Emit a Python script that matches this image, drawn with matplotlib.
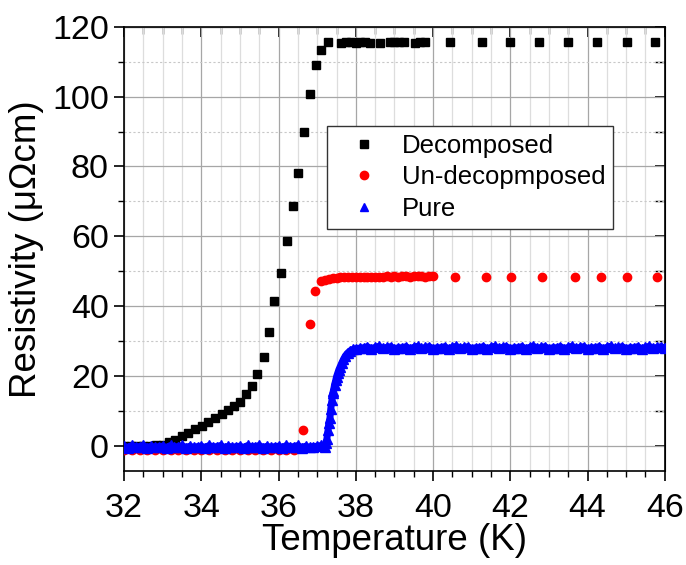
import matplotlib
matplotlib.use("Agg")
import matplotlib.pyplot as plt
from matplotlib.ticker import MultipleLocator

plt.rcParams['font.family'] = ['Liberation Sans', 'DejaVu Sans']

# Decomposed sample (black squares)
dec_T = [32.0, 32.17, 32.33, 32.5, 32.67, 32.83, 33.0,
         33.15, 33.32, 33.49, 33.66, 33.84, 34.01, 34.18, 34.36, 34.53, 34.70,
         34.85, 35.00, 35.15, 35.30, 35.45, 35.61, 35.75, 35.89, 36.06, 36.22,
         36.37, 36.50, 36.67, 36.82, 36.97, 37.11, 37.28,
         37.62, 37.75, 37.87, 38.00, 38.12, 38.25, 38.37, 38.63, 38.88, 39.00,
         39.12, 39.25, 39.52, 39.65, 39.78,
         40.45, 41.26, 41.99, 42.75, 43.50, 44.25, 45.01, 45.75]
dec_R = [0.0, 0.0, 0.0, 0.0, 0.0, 0.1, 0.3,
         1.1, 1.8, 2.8, 3.6, 4.7, 5.6, 6.7, 7.9, 9.0, 10.2,
         11.5, 12.6, 14.7, 17.1, 20.5, 25.5, 32.7, 41.5, 49.5, 58.6,
         68.7, 78.1, 89.8, 100.8, 108.9, 113.4, 115.5,
         115.4, 115.5, 115.5, 115.4, 115.5, 115.5, 115.4, 115.2, 115.5, 115.5,
         115.6, 115.5, 115.4, 115.5, 115.5,
         115.5, 115.5, 115.5, 115.5, 115.5, 115.5, 115.5, 115.5]

# Un-decomposed sample (red circles)
und_T = [32.0, 32.2, 32.4, 32.6, 32.8, 33.0, 33.2, 33.4, 33.6, 33.8, 34.0, 34.2,
         34.4, 34.6, 34.8, 35.0, 35.2, 35.4, 35.6, 35.8, 36.0, 36.2, 36.4,
         36.63, 36.81, 36.94, 37.09, 37.2, 37.3, 37.4, 37.5, 37.6, 37.7, 37.8,
         37.9, 38.0, 38.1, 38.2, 38.3, 38.4, 38.5, 38.6, 38.7, 38.8, 38.9, 39.0,
         39.1, 39.2, 39.3, 39.4, 39.5, 39.6, 39.7, 39.8, 39.9, 40.0,
         40.57, 41.37, 42.02, 42.83, 43.68, 44.34, 45.03, 45.80]
und_R = [-1.3, -1.3, -1.3, -1.3, -1.3, -1.3, -1.3, -1.3, -1.3, -1.3, -1.3, -1.3,
         -1.3, -1.3, -1.3, -1.3, -1.3, -1.3, -1.3, -1.3, -1.3, -1.3, -1.3,
         4.5, 35.0, 44.4, 47.2, 47.6, 47.8, 48.0, 48.1, 48.2, 48.2, 48.3,
         48.3, 48.3, 48.4, 48.4, 48.4, 48.4, 48.4, 48.4, 48.4, 48.5, 48.4, 48.5,
         48.4, 48.5, 48.5, 48.4, 48.5, 48.5, 48.5, 48.4, 48.5, 48.5,
         48.4, 48.4, 48.4, 48.4, 48.4, 48.4, 48.4, 48.4]

# Pure sample (blue triangles)
pure_T = [32.0, 32.1, 32.2, 32.3, 32.4, 32.5, 32.6, 32.7, 32.8, 32.9,
          33.0, 33.1, 33.2, 33.3, 33.4, 33.5, 33.6, 33.7, 33.8, 33.9,
          34.0, 34.1, 34.2, 34.3, 34.4, 34.5, 34.6, 34.7, 34.8, 34.9,
          35.0, 35.1, 35.2, 35.3, 35.4, 35.5, 35.6, 35.7, 35.8, 35.9,
          36.0, 36.1, 36.2, 36.3, 36.4, 36.5, 36.6, 36.7, 36.8, 36.9,
          37.0, 37.1, 37.2,
          37.22, 37.25, 37.28, 37.30, 37.33, 37.35, 37.38, 37.40, 37.42, 37.45,
          37.48, 37.50, 37.53, 37.56, 37.59, 37.63, 37.68, 37.73, 37.79, 37.85,
          37.92, 38.0, 38.1,
          38.2, 38.3, 38.4, 38.5, 38.6, 38.7, 38.8, 38.9, 39.0, 39.1,
          39.2, 39.3, 39.4, 39.5, 39.6, 39.7, 39.8, 39.9, 40.0, 40.1,
          40.2, 40.3, 40.4, 40.5, 40.6, 40.7, 40.8, 40.9, 41.0, 41.1,
          41.2, 41.3, 41.4, 41.5, 41.6, 41.7, 41.8, 41.9, 42.0, 42.1,
          42.2, 42.3, 42.4, 42.5, 42.6, 42.7, 42.8, 42.9, 43.0, 43.1,
          43.2, 43.3, 43.4, 43.5, 43.6, 43.7, 43.8, 43.9, 44.0, 44.1,
          44.2, 44.3, 44.4, 44.5, 44.6, 44.7, 44.8, 44.9, 45.0, 45.1,
          45.2, 45.3, 45.4, 45.5, 45.6, 45.7, 45.8, 45.9, 46.0]
pure_R = [-0.1, -0.5, 0.1, -0.3, -0.2, 0.1, -0.5, -0.1, -0.4, -0.2,
          -0.1, -0.5, 0.1, -0.3, -0.2, 0.1, -0.5, -0.1, -0.4, -0.2,
          -0.1, -0.5, 0.1, -0.3, -0.2, 0.1, -0.5, -0.1, -0.4, -0.2,
          -0.1, -0.5, 0.1, -0.3, -0.2, 0.1, -0.5, -0.1, -0.4, -0.2,
          -0.1, -0.5, 0.1, -0.3, -0.2, 0.1, -0.5, -0.1, -0.4, -0.2,
          -0.1, 0.1, -0.2,
          0.8, 2.0, 4.5, 6.5, 8.0, 10.5, 13.0, 15.0, 15.8, 17.5,
          18.8, 19.8, 20.8, 21.8, 22.6, 23.6, 24.8, 25.8, 26.6, 27.2,
          27.6, 27.8, 28.0,
          28.1, 28.4, 27.8, 28.2, 28.5, 27.9, 28.2, 28.4, 27.8, 28.1,
          28.1, 28.4, 27.8, 28.2, 28.5, 27.9, 28.2, 28.4, 27.8, 28.1,
          28.1, 28.4, 27.8, 28.2, 28.5, 27.9, 28.2, 28.4, 27.8, 28.1,
          28.1, 28.4, 27.8, 28.2, 28.5, 27.9, 28.2, 28.4, 27.8, 28.1,
          28.1, 28.4, 27.8, 28.2, 28.5, 27.9, 28.2, 28.4, 27.8, 28.1,
          28.1, 28.4, 27.8, 28.2, 28.5, 27.9, 28.2, 28.4, 27.8, 28.1,
          28.1, 28.4, 27.8, 28.2, 28.5, 27.9, 28.2, 28.4, 27.8, 28.1,
          28.1, 28.4, 27.8, 28.2, 28.5, 27.9, 28.2, 28.4, 28.1]

x_ticks = [32, 34, 36, 38, 40, 42, 44, 46]
y_ticks = [0, 20, 40, 60, 80, 100, 120]

fig = plt.figure(figsize=(6.86, 5.65), dpi=100)
ax = fig.add_axes([0.181, 0.1664, 0.788, 0.7863])

ax.plot(dec_T, dec_R, 's', color='black', ms=5.5, mec='black', label='Decomposed', zorder=3)
ax.plot(und_T, und_R, 'o', color='red', ms=6, mec='red', label='Un-decopmposed', zorder=3)
# the pure sample has so many readings that they merge into a solid band
ax.plot(pure_T, pure_R, '-', color='blue', lw=5, zorder=4, solid_capstyle='butt')
ax.plot(pure_T, pure_R, '^', color='blue', ms=7, mec='blue', label='Pure', zorder=4)

ax.set_xlim(32, 46)
ax.set_ylim(-7.2, 120)
ax.set_xticks(x_ticks)
ax.set_yticks(y_ticks)
ax.xaxis.set_minor_locator(MultipleLocator(0.5))
ax.yaxis.set_minor_locator(MultipleLocator(10))

ax.grid(which='major', axis='both', color='#a6a6a6', lw=0.9, ls='-')
ax.grid(which='minor', axis='x', color='#dddddd', lw=0.9, ls='-')
ax.grid(which='minor', axis='y', color='#c8c8c8', lw=0.8, ls=(0, (2, 2)))
ax.set_axisbelow(True)

for s in ax.spines.values():
    s.set_linewidth(1.2)

ax.tick_params(which='major', direction='out', length=7, width=1.2, labelsize=24.5)
ax.tick_params(which='minor', direction='out', length=4, width=1.0)
ax.tick_params(axis='x', which='major', pad=9)
ax.tick_params(axis='y', which='major', pad=4)

# mirrored ticks on top and right point into the plot
top = ax.secondary_xaxis('top')
top.set_xticks(x_ticks)
top.xaxis.set_minor_locator(MultipleLocator(0.5))
top.tick_params(which='major', direction='in', length=7, width=1.2, labeltop=False)
top.tick_params(which='minor', direction='in', length=5, width=1.0)
right = ax.secondary_yaxis('right')
right.set_yticks(y_ticks)
right.yaxis.set_minor_locator(MultipleLocator(10))
right.tick_params(which='major', direction='in', length=7, width=1.2, labelright=False)
right.tick_params(which='minor', direction='in', length=7, width=1.0)

ax.set_xlabel('Temperature (K)', fontsize=26.5, labelpad=-1)
ax.set_ylabel('Resistivity (\u03bc\u03a9cm)', fontsize=26.5, labelpad=6)

leg = ax.legend(loc='upper left', bbox_to_anchor=(327 / 686, 1 - 126 / 565),
                bbox_transform=fig.transFigure, fontsize=18.5, frameon=True,
                fancybox=False, edgecolor='#333333', framealpha=1, borderpad=0.3,
                handlelength=2.3, handletextpad=0.3, labelspacing=0.3, borderaxespad=0)
leg.get_frame().set_linewidth(1.0)
for h in leg.legend_handles:
    h.set_markersize(6)

fig.savefig('out.png', dpi=100)
